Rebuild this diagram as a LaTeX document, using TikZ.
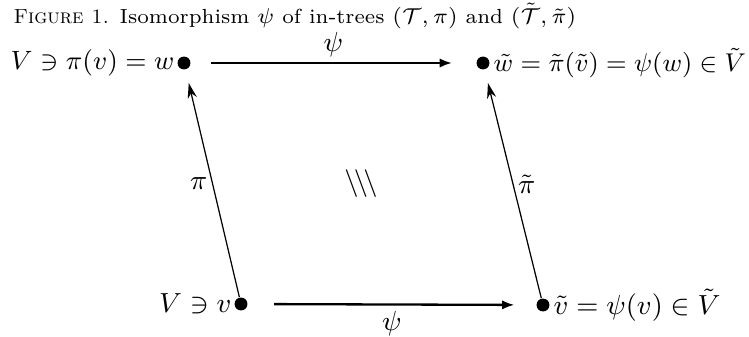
\documentclass[tikz,border=0pt]{standalone}
\usepackage{amsmath,amssymb}
\usepackage{tikz}
\usetikzlibrary{arrows.meta, positioning}

\tikzset{
  dotnode/.style={circle, fill=black, inner sep=0pt, minimum size=4.2pt},
  vertlabel/.style={inner sep=0pt, font=\fontsize{9}{11}\selectfont},
  maplabel/.style={inner sep=1.5pt, font=\fontsize{9}{11}\selectfont},
  maparrow/.style={-{Latex[length=4pt,width=3pt]}, line width=0.75pt},
  treearrow/.style={-{Stealth[length=5pt,width=3pt]}, line width=0.4pt},
}

\begin{document}
\begin{tikzpicture}[x=0.3257pt, y=-0.3257pt]
\useasboundingbox (0,0) rectangle (749,337);
\node[anchor=west, inner sep=0pt, font=\fontsize{6.65}{8}\selectfont] (caption) at (13,16)
  {\textsc{Figure 1.} Isomorphism $\psi$ of in-trees $(\mathcal{T},\pi)$ and $(\tilde{\mathcal{T}},\tilde{\pi})$};

\node[dotnode] (w) at (184,63) {};
\node[dotnode] (wt) at (483,63) {};
\node[dotnode] (v) at (241,304) {};
\node[dotnode] (vt) at (543,305) {};

\node[vertlabel, left=0.6pt of w, scale=0.96] (wlabel) {$V \ni \pi(v) = w$};
\node[vertlabel, right=1pt of wt, scale=0.93] (wtlabel) {$\tilde{w} = \tilde{\pi}(\tilde{v}) = \psi(w) \in \tilde{V}$};
\node[vertlabel, left=0.6pt of v] (vlabel) {$V \ni v$};
\node[vertlabel, right=1pt of vt] (vtlabel) {$\tilde{v} = \psi(v) \in \tilde{V}$};

\draw[maparrow, shorten <=6.5pt, shorten >=7.8pt] (w) -- node[maplabel, above=0pt] {$\psi$} (wt);
\draw[maparrow, shorten <=8.5pt, shorten >=7pt] (v) -- node[maplabel, below=0.5pt] {$\psi$} (vt);
\draw[treearrow, shorten >=4.4pt] (v) -- node[maplabel, left=0pt] {$\pi$} (w);
\draw[treearrow, shorten >=4.4pt] (vt) -- node[maplabel, right=0pt] {$\tilde{\pi}$} (wt);

\node[maplabel] (iso) at (361,184) {$\backslash\!\backslash\!\backslash$};
\end{tikzpicture}
\end{document}
